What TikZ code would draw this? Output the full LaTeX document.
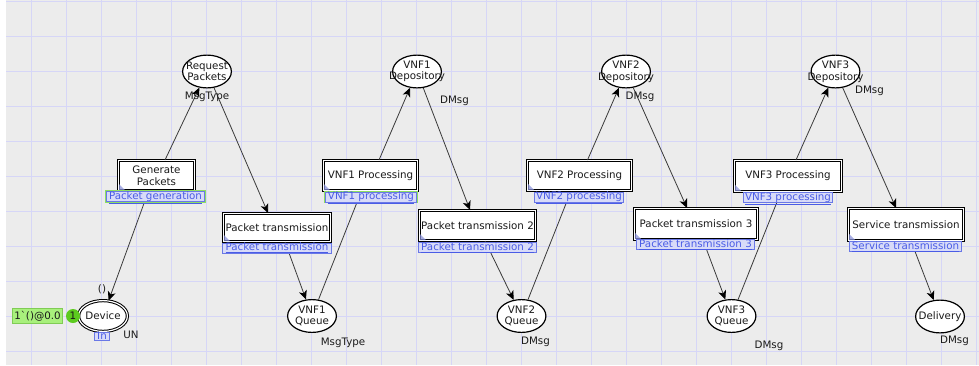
\documentclass[tikz,border=0pt]{standalone}
\usepackage{fontspec}
\setmainfont{DejaVu Sans}
\usetikzlibrary{shapes.geometric,arrows.meta,calc}

\definecolor{canvas}{HTML}{ECECEC}
\definecolor{gridc}{HTML}{D6D6F7}
\definecolor{inkc}{HTML}{1A1A1A}
\definecolor{arcc}{HTML}{3A3A3A}
\definecolor{lblfill}{HTML}{D8DBF8}
\definecolor{lbldraw}{HTML}{6A78E6}
\definecolor{lbltext}{HTML}{4A5CE6}
\definecolor{glow}{HTML}{8EE060}
\definecolor{tokfill}{HTML}{A8F07C}
\definecolor{tokdraw}{HTML}{80CC55}
\definecolor{dotc}{HTML}{5CCB1E}
\definecolor{cornerc}{HTML}{8A92DA}

\begin{document}
\begin{tikzpicture}[x=1pt,y=-1pt,
  every node/.style={font=\fontsize{10.3}{11.5}\selectfont, text=inkc},
  gridline/.style={draw=gridc, line width=0.9pt},
  place/.style={ellipse, draw=black, line width=1.2pt, fill=white,
    minimum width=48.8pt, minimum height=32.8pt, inner sep=0pt},
  inplace/.style={ellipse, draw=black, double=white, line width=1pt,
    double distance=1.2pt, fill=white,
    minimum width=48.8pt, minimum height=30.8pt, inner sep=0pt},
  ptext/.style={align=center, inner sep=0pt},
  trans/.style={rectangle, draw=black, double=white, line width=1pt,
    double distance=1pt, fill=white, inner sep=0pt, align=center},
  arc/.style={draw=arcc, line width=0.8pt,
    -{Stealth[length=9pt,width=8pt,inset=2.5pt,color=black]}},
  biarc/.style={draw=arcc, line width=0.8pt,
    {Stealth[length=9pt,width=8pt,inset=2.5pt,color=black]}-{Stealth[length=9pt,width=8pt,inset=2.5pt,color=black]}},
  lbl/.style={draw=lbldraw, fill=lblfill, line width=0.7pt, inner sep=0pt,
    text=lbltext, minimum height=10.3pt, text height=7.6pt, text depth=2.2pt},
  glowlbl/.style={lbl, preaction={draw=glow, line width=2.6pt}},
  insc/.style={inner sep=0pt}
]
\useasboundingbox (0,0) rectangle (979,365);

% canvas and grid
\fill[white] (0,0) rectangle (979,365);
\fill[canvas] (6,0) rectangle (979,365);
\foreach \gx in {0,...,27} \draw[gridline] ({31.7+35*\gx},0) -- ++(0,365);
\foreach \gy in {0,...,10} \draw[gridline] (6,{1.7+35*\gy}) -- (979,{1.7+35*\gy});

% places
\node[place, label={[ptext]center:Request\\Packets}] (req) at (207,71.5) {};
\node[place, label={[ptext]center:VNF1\\Depository}] (dep1) at (417,71.5) {};
\node[place, label={[ptext]center:VNF2\\Depository}] (dep2) at (626,71.5) {};
\node[place, label={[ptext]center:VNF3\\Depository}] (dep3) at (835.5,71.5) {};
\node[inplace, label={[ptext]center:Device}] (dev) at (103,316) {};
\node[place, label={[ptext]center:VNF1\\Queue}] (q1) at (312,316) {};
\node[place, label={[ptext]center:VNF2\\Queue}] (q2) at (521.5,316) {};
\node[place, label={[ptext]center:VNF3\\Queue}] (q3) at (731.5,316) {};
\node[place, label={[ptext]center:Delivery}] (deliv) at (940,316.5) {};

% substitution transitions
\node[trans, minimum width=76pt, minimum height=30pt] (gen) at (156.5,175.5) {Generate\\Packets};
\node[trans, minimum width=107pt, minimum height=28pt] (pt1) at (277,227.5) {Packet transmission};
\node[trans, minimum width=94pt, minimum height=30pt] (p1) at (370.5,175.5) {VNF1 Processing};
\node[trans, minimum width=116pt, minimum height=30pt] (pt2) at (477.5,225.5) {Packet transmission 2};
\node[trans, minimum width=104pt, minimum height=30pt] (p2) at (579.5,175.5) {VNF2 Processing};
\node[trans, minimum width=123pt, minimum height=31pt] (pt3) at (696,224) {Packet transmission 3};
\node[trans, minimum width=107pt, minimum height=31pt] (p3) at (788,176) {VNF3 Processing};
\node[trans, minimum width=115pt, minimum height=32pt] (st) at (906,224.5) {Service transmission};

% corner marks of the substitution transitions
\foreach \t in {gen,pt1,p1,pt2,p2,pt3,p3,st}
  \fill[cornerc, fill opacity=0.75] ($(\t.south west)+(1,-1)$) -- ++(0,-6) -- ++(6,6) -- cycle;

% arcs
\draw[arc] ($(gen.north)+(8.5,0)$) -- (req);
\draw[arc] (req) -- ($(pt1.north)+(-9,0)$);
\draw[biarc] ($(gen.south)+(-8,0)$) -- (dev);
\draw[arc] ($(pt1.south)+(8,0)$) -- (q1);
\draw[arc] (q1) -- ($(p1.south)+(-9,0)$);
\draw[arc] ($(p1.north)+(8.5,0)$) -- (dep1);
\draw[arc] (dep1) -- ($(pt2.north)+(-7.5,0)$);
\draw[arc] ($(pt2.south)+(7.5,0)$) -- (q2);
\draw[arc] (q2) -- ($(p2.south)+(-8.5,0)$);
\draw[arc] ($(p2.north)+(8,0)$) -- (dep2);
\draw[arc] (dep2) -- ($(pt3.north)+(-9,0)$);
\draw[arc] ($(pt3.south)+(7,0)$) -- (q3);
\draw[arc] (q3) -- ($(p3.south)+(-7,0)$);
\draw[arc] ($(p3.north)+(8,0)$) -- (dep3);
\draw[arc] (dep3) -- ($(st.north)+(-10,0)$);
\draw[arc] ($(st.south)+(5,0)$) -- (deliv);

% subpage tags
\node[glowlbl, minimum width=98.3pt] (lgen) at (155.5,196.5) {\underline{Packet generation}};
\node[lbl, minimum width=109.3pt] (lpt1) at (277,248) {\underline{Packet transmission}};
\node[glowlbl, minimum width=91.3pt] (lp1) at (371,197) {\underline{VNF1 processing}};
\node[lbl, minimum width=118.3pt] (lpt2) at (477.5,247.5) {\underline{Packet transmission 2}};
\node[lbl, minimum width=89.3pt] (lp2) at (579,197) {\underline{VNF2 processing}};
\node[lbl, minimum width=118.3pt] (lpt3) at (695.5,244.5) {\underline{Packet transmission 3}};
\node[lbl, minimum width=89.3pt] (lp3) at (788,197.5) {\underline{VNF3 processing}};
\node[lbl, minimum width=112.3pt] (lst) at (905.5,246.5) {\underline{Service transmission}};

% colour sets and arc inscriptions
\node[insc] (cReq) at (207,97) {MsgType};
\node[insc] (cQ1) at (343,343) {MsgType};
\node[insc] (cD1) at (454.5,101) {DMsg};
\node[insc] (cD2) at (640,97) {DMsg};
\node[insc] (cD3) at (869.5,91) {DMsg};
\node[insc] (cQ2) at (535.5,342) {DMsg};
\node[insc] (cQ3) at (769,346) {DMsg};
\node[insc] (cDel) at (954.5,341) {DMsg};
\node[insc] (cDev) at (131,335) {UN};
\node[insc] (aDev) at (102,289) {()};

% port tag and initial marking
\node[lbl, minimum width=15.3pt, minimum height=8.3pt, text height=6.5pt, text depth=0.5pt] (port) at (102,336) {In};
\node[draw=tokdraw, fill=tokfill, line width=0.6pt, minimum width=50pt, minimum height=15pt, inner sep=1pt] (mark) at (37.5,316) {1\textasciigrave()@0.0};
\node[circle, fill=dotc, minimum size=14pt, inner sep=0pt] (tok) at (73,316) {1};
\end{tikzpicture}
\end{document}
